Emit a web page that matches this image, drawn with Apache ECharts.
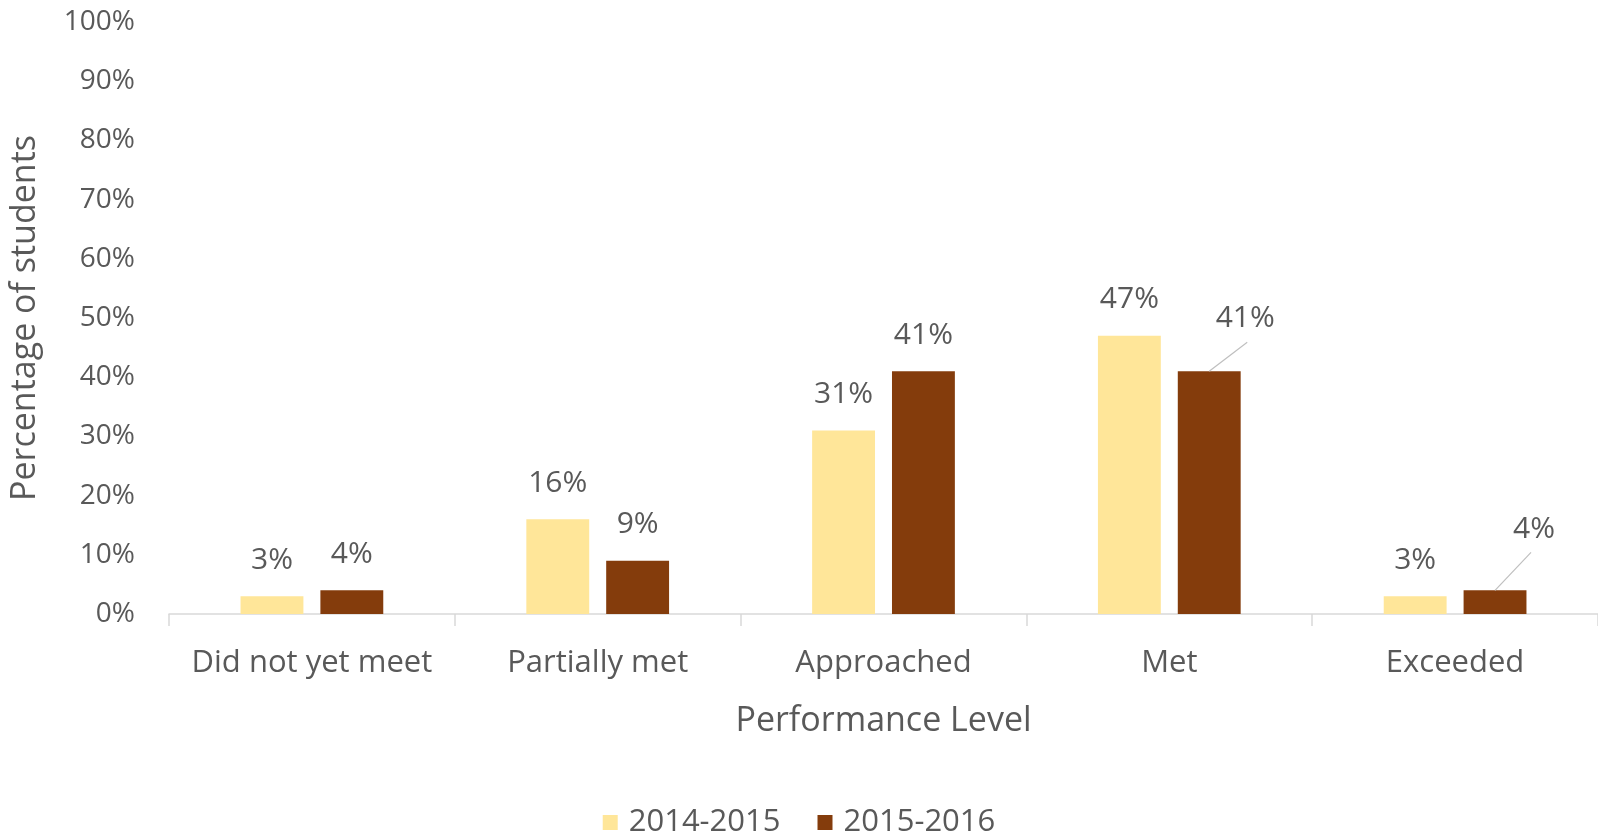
<!DOCTYPE html>
<html>
<head>
<meta charset="utf-8">
<script src="https://cdn.jsdelivr.net/npm/echarts@6/dist/echarts.min.js"></script>
<style>
  html, body { margin: 0; padding: 0; background: #fff; }
  #chart { width: 1598px; height: 836px; }
</style>
</head>
<body>
<div id="chart"></div>
<script>
const categories = ['Did not yet meet', 'Partially met', 'Approached', 'Met', 'Exceeded'];
const seriesNames = ['2014-2015', '2015-2016'];
const values2014 = [3, 16, 31, 47, 3];
const values2016 = [4, 9, 41, 41, 4];
const yTicks = [0, 10, 20, 30, 40, 50, 60, 70, 80, 90, 100];

// 2015-2016 labels that sit aside in the original, joined to their bar by a leader line
// index -> [label shift x, label shift y, leader end x, leader end y]
const movedLabels = { 3: [36, -17, 38, -29], 4: [39, -25, 36, -38] };

const textColor = '#595959';
const font = '"Open Sans", "Noto Sans", sans-serif';
const BAR_WIDTH = 0.22;
const BAR_GAP = 0.27;

const chart = echarts.init(document.getElementById('chart'));

const labelStyle = {
  show: true,
  position: 'top',
  distance: 21,
  color: textColor,
  fontFamily: font,
  fontSize: 30,
  formatter: p => Math.round(p.value) + '%'
};

// leader lines drawn from the top centre of the 2015-2016 bar
const leaderData = Object.keys(movedLabels).map(i => [Number(i), values2016[i]]);

function renderLeader(params, api) {
  const i = api.value(0);
  const top = api.coord([i, api.value(1)]);
  const band = api.size([1, 0])[0];
  const bw = band * BAR_WIDTH;
  const cx = top[0] + (bw + bw * BAR_GAP) / 2;
  const m = movedLabels[i];
  return {
    type: 'line',
    shape: { x1: cx, y1: top[1], x2: cx + m[2], y2: top[1] + m[3] },
    style: { stroke: '#bfbfbf', lineWidth: 1.2 },
    silent: true
  };
}

const option = {
  animation: false,
  textStyle: { fontFamily: font, color: textColor },
  grid: { left: 168, right: 0, top: 22, bottom: 222 },
  legend: {
    top: 802,
    left: 'center',
    icon: 'rect',
    itemWidth: 15,
    itemHeight: 15,
    itemGap: 37,
    textStyle: { color: textColor, fontSize: 31, fontFamily: font, padding: [0, 0, 0, 6] },
    data: seriesNames
  },
  xAxis: {
    type: 'category',
    data: categories,
    name: 'Performance Level',
    nameLocation: 'middle',
    nameGap: 90,
    nameTextStyle: { color: textColor, fontSize: 34, fontFamily: font },
    axisLine: { lineStyle: { color: '#d9d9d9', width: 1.5 } },
    axisTick: { show: true, length: 12, lineStyle: { color: '#d9d9d9', width: 1.5 } },
    axisLabel: { color: textColor, fontSize: 31, fontFamily: font, margin: 34, interval: 0 }
  },
  yAxis: {
    type: 'value',
    min: yTicks[0],
    max: yTicks[yTicks.length - 1],
    interval: yTicks[1] - yTicks[0],
    name: 'Percentage of students',
    nameLocation: 'middle',
    nameGap: 127,
    nameTextStyle: { color: textColor, fontSize: 34, fontFamily: font },
    axisLine: { show: false },
    axisTick: { show: false },
    splitLine: { show: false },
    axisLabel: { color: textColor, fontSize: 28, fontFamily: font, margin: 34, formatter: '{value}%' }
  },
  series: [
    {
      name: seriesNames[0],
      type: 'bar',
      data: values2014,
      barWidth: BAR_WIDTH * 100 + '%',
      barGap: BAR_GAP * 100 + '%',
      itemStyle: { color: '#FFE699' },
      label: labelStyle
    },
    {
      name: seriesNames[1],
      type: 'bar',
      data: values2016,
      barWidth: BAR_WIDTH * 100 + '%',
      barGap: BAR_GAP * 100 + '%',
      itemStyle: { color: '#843C0C' },
      label: labelStyle,
      labelLayout: params => {
        const m = movedLabels[params.dataIndex];
        return m ? { dx: m[0], dy: m[1] } : {};
      }
    },
    {
      type: 'custom',
      renderItem: renderLeader,
      data: leaderData,
      encode: { x: 0, y: 1 },
      z: 3,
      silent: true
    }
  ]
};

chart.setOption(option);
window.addEventListener('resize', () => chart.resize());
</script>
</body>
</html>
